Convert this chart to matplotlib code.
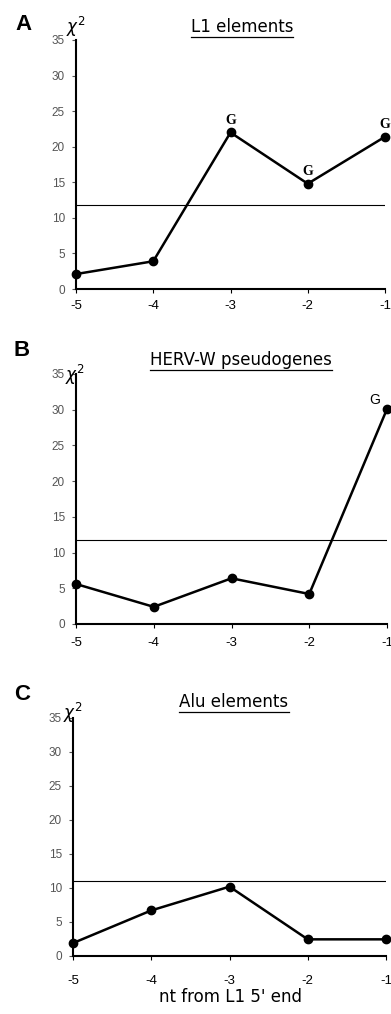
import matplotlib.pyplot as plt
from matplotlib.lines import Line2D

# positions (nt from L1 5' end)
positions = [-5, -4, -3, -2, -1]

# chi-square values per panel
l1_values = [2.1, 3.9, 22.0, 14.8, 21.4]
herv_values = [5.6, 2.4, 6.4, 4.2, 30.1]
alu_values = [1.9, 6.7, 10.2, 2.45, 2.45]

# significance thresholds
l1_threshold = 11.8
herv_threshold = 11.7
alu_threshold = 11.1

titles = ['L1 elements', 'HERV-W pseudogenes', 'Alu elements']
letters = ['A', 'B', 'C']
y_ticks = [0, 5, 10, 15, 20, 25, 30, 35]

W, H = 391, 1014
fig = plt.figure(figsize=(W / 100, H / 100), dpi=100)

SANS = ['Liberation Sans', 'DejaVu Sans']


def px_axes(left, top, right, bottom):
    return fig.add_axes([left / W, 1 - bottom / H, (right - left) / W, (bottom - top) / H])


ax_a = px_axes(76, 40, 385, 289)
ax_b = px_axes(76, 374, 387, 624)
ax_c = px_axes(73, 718, 386, 956)
axes = [ax_a, ax_b, ax_c]
series = [l1_values, herv_values, alu_values]
thresholds = [l1_threshold, herv_threshold, alu_threshold]
x_pads = [5, 6, 11]

for ax, vals, thr, xp in zip(axes, series, thresholds, x_pads):
    ax.plot(positions, vals, color='black', linewidth=1.8, marker='o',
            markersize=6, clip_on=False, zorder=3)
    ax.axhline(thr, color='black', linewidth=0.8)
    ax.set_xlim(-5, -1)
    ax.set_ylim(0, 35)
    ax.spines['top'].set_visible(False)
    ax.spines['right'].set_visible(False)
    ax.spines['left'].set_linewidth(1.5)
    ax.spines['bottom'].set_linewidth(1.5)
    ax.set_yticks(y_ticks)
    ax.set_yticklabels([str(t) for t in y_ticks], color='#555555', fontsize=8.5,
                       family=SANS)
    ax.tick_params(axis='y', length=3, width=0.8, color='#555555', pad=5)
    ax.set_xticks(positions)
    ax.set_xticklabels([str(p) for p in positions], fontsize=9.5, family=SANS)
    ax.tick_params(axis='x', length=3, width=0.8, pad=xp)

# "G" annotations
for i in [2, 3, 4]:
    ax_a.annotate('G', (positions[i], l1_values[i]), textcoords='offset points',
                  xytext=(0, 4), ha='center', va='bottom', fontsize=10,
                  fontweight='bold', family=['Liberation Serif', 'DejaVu Serif'],
                  annotation_clip=False)
ax_b.annotate('G', (positions[4], herv_values[4]), textcoords='offset points',
              xytext=(-9, 6.5), ha='center', va='center', fontsize=10,
              family=SANS, annotation_clip=False)

# x-axis label only on the bottom panel
fig.text(231 / W, 1 - 997 / H, "nt from L1 5' end", ha='center', va='center',
         fontsize=12, family=['DejaVu Sans'])

# titles, panel letters, chi-square labels (pixel positions)
title_pos = [(242, 27), (241, 360), (234, 702)]
letter_pos = [(23, 25), (22, 350), (22, 695)]
chi_pos = [(76, 27), (75, 375), (73, 713)]

title_texts = []
for t, (tx, ty), l, (lx, ly), (cx, cy) in zip(titles, title_pos, letters, letter_pos, chi_pos):
    tt = fig.text(tx / W, 1 - ty / H, t, ha='center', va='center', fontsize=12,
                  family=['DejaVu Sans'])
    title_texts.append(tt)
    fig.text(lx / W, 1 - ly / H, l, ha='center', va='center', fontsize=16,
             fontweight='bold', family=SANS)
    fig.text(cx / W, 1 - cy / H, r'$\chi^2$', ha='center', va='center', fontsize=12)

# underline the titles
fig.canvas.draw()
renderer = fig.canvas.get_renderer()
for tt in title_texts:
    bb = tt.get_window_extent(renderer=renderer)
    y = (bb.y0 - 1) / H
    fig.add_artist(Line2D([bb.x0 / W, bb.x1 / W], [y, y], color='black', linewidth=0.9,
                          transform=fig.transFigure))

fig.savefig('out.png', dpi=100)
